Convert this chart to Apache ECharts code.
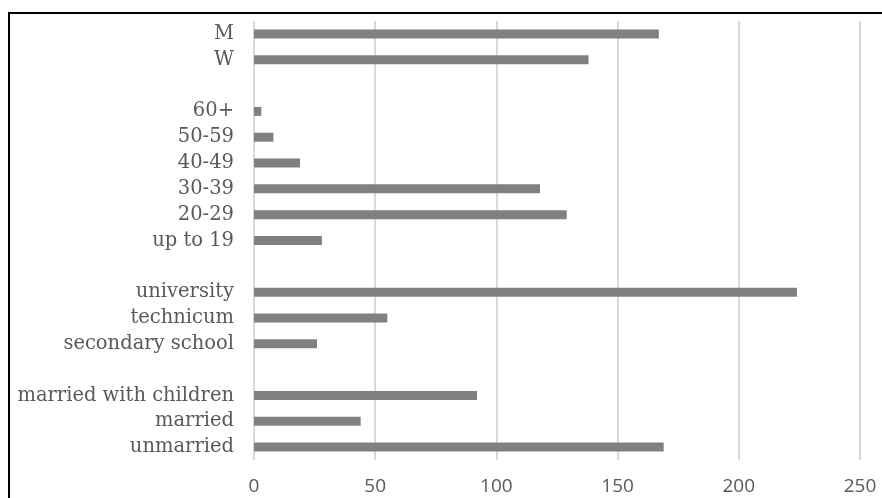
<!DOCTYPE html>
<html>
<head>
<meta charset="utf-8">
<script src="https://cdn.jsdelivr.net/npm/echarts@6/dist/echarts.min.js"></script>
<style>
html,body{margin:0;padding:0;background:#fff;}
#chart{width:882px;height:498px;}
</style>
</head>
<body>
<div id="chart"></div>
<script>
const categories = ['M', 'W', ' ', '60+', '50-59', '40-49', '30-39', '20-29', 'up to 19', '  ', 'university', 'technicum', 'secondary school', '   ', 'married with children', 'married', 'unmarried'];
const values = [167, 138, null, 3, 8, 19, 118, 129, 28, null, 224, 55, 26, null, 92, 44, 169];
const xTicks = [0, 50, 100, 150, 200, 250];

const chart = echarts.init(document.getElementById('chart'), null, {renderer: 'canvas'});
chart.setOption({
  animation: false,
  backgroundColor: '#ffffff',
  graphic: [{
    type: 'rect',
    shape: {x: 9, y: 13, width: 1000, height: 1000},
    style: {fill: 'none', stroke: '#000000', lineWidth: 2},
    silent: true,
    z: 100
  }],
  grid: {left: 254, right: 22, top: 21, bottom: 38, containLabel: false},
  xAxis: {
    type: 'value',
    min: xTicks[0],
    max: xTicks[xTicks.length - 1],
    interval: xTicks[1] - xTicks[0],
    axisLine: {show: false},
    axisTick: {show: false},
    splitLine: {show: true, lineStyle: {color: '#d9d9d9', width: 2}},
    axisLabel: {color: '#595959', fontFamily: 'Open Sans', fontSize: 19, margin: 17}
  },
  yAxis: {
    type: 'category',
    inverse: true,
    data: categories,
    axisLine: {show: false},
    axisTick: {show: false},
    axisLabel: {color: '#595959', fontFamily: 'DejaVu Serif', fontSize: 19.5, margin: 20, interval: 0, hideOverlap: false}
  },
  series: [{
    type: 'bar',
    data: values,
    barWidth: 9,
    itemStyle: {color: '#808080'}
  }]
});
</script>
</body>
</html>
